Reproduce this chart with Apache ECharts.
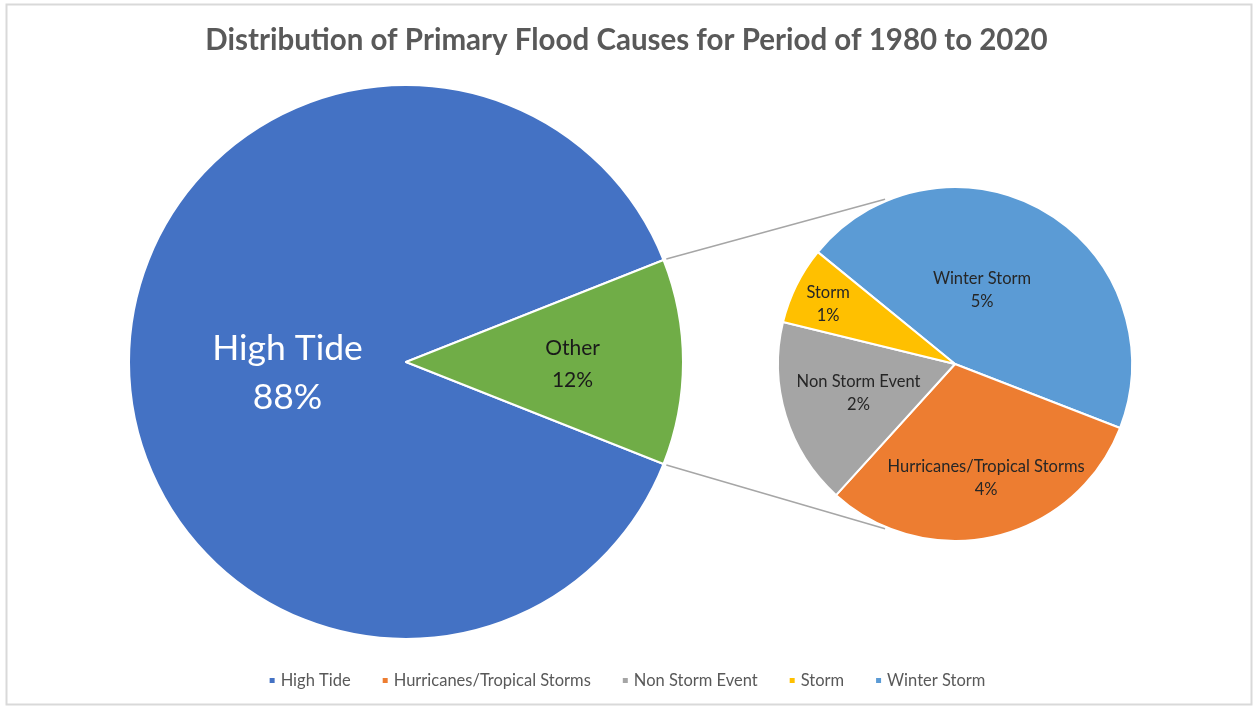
<!DOCTYPE html>
<html>
<head>
<meta charset="utf-8">
<title>Distribution of Primary Flood Causes</title>
<script src="https://cdn.jsdelivr.net/npm/echarts@6/dist/echarts.min.js"></script>
<style>
  html, body { margin: 0; padding: 0; background: #ffffff; }
  #chart { width: 1253px; height: 706px; }
</style>
</head>
<body>
<div id="chart"></div>
<script>
// Primary pie: share of all flood events (percent)
const mainNames  = ['High Tide', 'Other'];
const mainValues = [88, 12];

// Secondary pie: breakdown of "Other" (percent of all events)
const subNames  = ['Winter Storm', 'Hurricanes/Tropical Storms', 'Non Storm Event', 'Storm'];
const subValues = [5.4, 3.7, 2.05, 0.85];

// Legend order
const legendNames = ['High Tide', 'Hurricanes/Tropical Storms', 'Non Storm Event', 'Storm', 'Winter Storm'];

const colors = {
  'High Tide': '#4472C4',
  'Other': '#70AD47',
  'Winter Storm': '#5B9BD5',
  'Hurricanes/Tropical Storms': '#ED7D31',
  'Non Storm Event': '#A5A5A5',
  'Storm': '#FFC000'
};

// Layout
const FONT = 'Lato, "Open Sans", sans-serif';
const mainCenter = [406, 362], mainR = 277;
const subCenter = [955, 364], subR = 177;
const subStart = 140.8;          // degrees, where the first sub slice begins
const connectorAngle = 113;      // degrees on the sub pie where the connectors meet

// label nudges (dx, dy) from the default inside position
const labelShift = {
  'High Tide': [23, 11],
  'Other': [25, 2],
  'Winter Storm': [-19, 5],
  'Hurricanes/Tropical Storms': [10, 25],
  'Non Storm Event': [-9, 2],
  'Storm': [-45, -19]
};
const seriesNames = [mainNames, subNames];

const mainTotal = mainValues.reduce((a, b) => a + b, 0);
const otherIdx = mainNames.indexOf('Other');
const otherHalfDeg = mainValues[otherIdx] / mainTotal * 360 / 2;
const mainStart = 360 - otherHalfDeg;

const mainData = mainNames.map((n, i) => ({
  name: n,
  value: mainValues[i],
  itemStyle: { color: colors[n] },
  label: n === 'High Tide'
    ? { color: '#ffffff', fontSize: 35.5, lineHeight: 49 }
    : { color: '#1a1a1a', fontSize: 21, lineHeight: 32 }
}));

const subData = subNames.map((n, i) => ({
  name: n,
  value: subValues[i],
  itemStyle: { color: colors[n] }
}));

// connector lines between the "Other" wedge and the sub pie
function polar(c, r, deg) {
  const a = deg * Math.PI / 180;
  return [c[0] + r * Math.cos(a), c[1] - r * Math.sin(a)];
}
const pTopA = polar(mainCenter, mainR + 3, otherHalfDeg);
const pBotA = polar(mainCenter, mainR + 3, -otherHalfDeg);
const pTopB = polar(subCenter, subR + 2, connectorAngle);
const pBotB = polar(subCenter, subR + 2, -connectorAngle);

function nudge(params) {
  const name = seriesNames[params.seriesIndex][params.dataIndex];
  const s = labelShift[name] || [0, 0];
  return { dx: s[0], dy: s[1], hideOverlap: false };
}

const chart = echarts.init(document.getElementById('chart'), null, { renderer: 'canvas' });
chart.setOption({
  animation: false,
  backgroundColor: '#ffffff',
  textStyle: { fontFamily: FONT },
  title: {
    text: 'Distribution of Primary Flood Causes for Period of 1980 to 2020',
    left: 'center',
    top: 20,
    textStyle: { fontFamily: FONT, fontSize: 29.5, fontWeight: 'bold', color: '#595959' }
  },
  legend: {
    data: legendNames,
    top: 667,
    left: 'center',
    icon: 'rect',
    itemWidth: 7,
    itemHeight: 7,
    itemGap: 30,
    selectedMode: false,
    textStyle: { fontFamily: FONT, fontSize: 16.5, color: '#595959' }
  },
  graphic: [
    {
      type: 'rect',
      shape: { x: 6.5, y: 4.5, width: 1245, height: 700 },
      style: { fill: 'none', stroke: '#D9D9D9', lineWidth: 2 },
      silent: true, z: -10
    },
    {
      type: 'line',
      shape: { x1: pTopA[0], y1: pTopA[1], x2: pTopB[0], y2: pTopB[1] },
      style: { stroke: '#A6A6A6', lineWidth: 1.5 },
      silent: true
    },
    {
      type: 'line',
      shape: { x1: pBotA[0], y1: pBotA[1], x2: pBotB[0], y2: pBotB[1] },
      style: { stroke: '#A6A6A6', lineWidth: 1.5 },
      silent: true
    }
  ],
  series: [
    {
      name: 'Primary',
      type: 'pie',
      center: mainCenter,
      radius: [0, mainR],
      startAngle: mainStart,
      clockwise: true,
      avoidLabelOverlap: false,
      silent: true,
      itemStyle: { borderColor: '#ffffff', borderWidth: 2 },
      label: {
        show: true,
        position: 'inside',
        fontFamily: FONT,
        formatter: p => p.name + '\n' + Math.round(p.value) + '%'
      },
      labelLine: { show: false },
      labelLayout: nudge,
      data: mainData
    },
    {
      name: 'Other breakdown',
      type: 'pie',
      center: subCenter,
      radius: [0, subR],
      startAngle: subStart,
      clockwise: true,
      avoidLabelOverlap: false,
      silent: true,
      itemStyle: { borderColor: '#ffffff', borderWidth: 2 },
      label: {
        show: true,
        position: 'inside',
        fontFamily: FONT,
        fontSize: 16.5,
        lineHeight: 23,
        color: '#262626',
        formatter: p => p.name + '\n' + Math.round(p.value) + '%'
      },
      labelLine: { show: false },
      labelLayout: nudge,
      data: subData
    }
  ]
});
</script>
</body>
</html>
